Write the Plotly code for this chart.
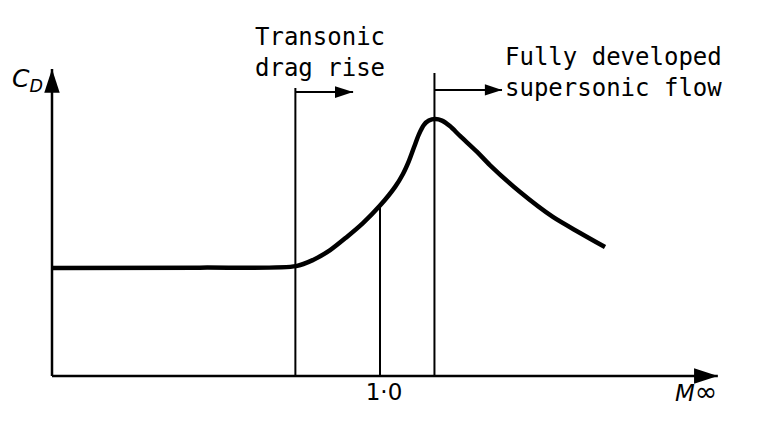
import plotly.graph_objects as go

# Drag coefficient curve (arbitrary C_D units) vs free-stream Mach number
mach = [0.0, 0.451, 0.744, 0.796, 0.848, 0.899, 0.948, 1.000, 1.046, 1.070, 1.088,
        1.104, 1.119, 1.134, 1.149, 1.168, 1.189, 1.213, 1.244, 1.296, 1.335,
        1.427, 1.527, 1.610, 1.686]
cd = [0.352, 0.353, 0.358, 0.378, 0.410, 0.453, 0.498, 0.555, 0.616, 0.658, 0.700,
      0.746, 0.788, 0.818, 0.832, 0.837, 0.832, 0.814, 0.782, 0.730, 0.687,
      0.599, 0.518, 0.466, 0.420]

# Guide markers
transonic_m = 0.742      # start of transonic drag rise
transonic_top = 0.938
transonic_arrow_y = 0.925
transonic_arrow_end = 0.918
sonic_m = 1.0
sonic_cd = 0.555
peak_m = 1.166           # fully developed supersonic flow
peak_top = 0.987
peak_arrow_y = 0.932
peak_arrow_end = 1.372

# Axis extents (arrow tips)
x_axis_end = 2.03
y_axis_end = 1.0

tick_vals = [1.0]
tick_text = ["1·0"]

fig = go.Figure()

black = "black"

def line(xs, ys, w):
    fig.add_trace(go.Scatter(x=xs, y=ys, mode="lines",
                             line=dict(color=black, width=w),
                             hoverinfo="skip", showlegend=False))

def head(x, y, ang, size):
    fig.add_trace(go.Scatter(x=[x], y=[y], mode="markers",
                             marker=dict(symbol="arrow", angle=ang, size=size,
                                         color=black, line=dict(width=0)),
                             cliponaxis=False, hoverinfo="skip", showlegend=False))

# axes
line([0, x_axis_end], [0, 0], 2.5)
line([0, 0], [0, y_axis_end], 2.5)
head(x_axis_end, 0, 90, 25)
head(0, y_axis_end, 0, 25)

# guide verticals
line([transonic_m, transonic_m], [0, transonic_top], 2)
line([sonic_m, sonic_m], [0, sonic_cd], 2)
line([peak_m, peak_m], [0, peak_top], 2)

# horizontal arrows
line([transonic_m, transonic_arrow_end], [transonic_arrow_y, transonic_arrow_y], 2)
head(transonic_arrow_end, transonic_arrow_y, 90, 19)
line([peak_m, peak_arrow_end], [peak_arrow_y, peak_arrow_y], 2)
head(peak_arrow_end, peak_arrow_y, 90, 18)

# drag curve
fig.add_trace(go.Scatter(x=mach, y=cd, mode="lines",
                         line=dict(color=black, width=4.5, shape="spline", smoothing=0.8),
                         hoverinfo="skip", showlegend=False))

mono = "DejaVu Sans Mono"
fig.add_annotation(x=0.613, y=1.055, xref="x", yref="y", text="Transonic<br>drag rise",
                   showarrow=False, xanchor="left", yanchor="middle", align="left",
                   font=dict(family=mono, size=24, color=black))
fig.add_annotation(x=1.375, y=0.987, xref="x", yref="y", text="Fully developed<br>supersonic flow",
                   showarrow=False, xanchor="left", yanchor="middle", align="left",
                   font=dict(family=mono, size=24, color=black))
fig.add_annotation(x=-0.076, y=0.964, xref="x", yref="y", text="<i>C<sub>D</sub></i>",
                   showarrow=False, xanchor="center", yanchor="middle",
                   font=dict(family="DejaVu Sans", size=25, color=black))
fig.add_annotation(x=1.962, y=-0.052, xref="x", yref="y",
                   text="<i>M</i><span style='font-size:27px'>∞</span>",
                   showarrow=False, xanchor="center", yanchor="middle",
                   font=dict(family="DejaVu Sans", size=23, color=black))

fig.update_layout(
    width=776, height=434,
    margin=dict(l=0, r=0, t=0, b=0, autoexpand=False),
    paper_bgcolor="white", plot_bgcolor="white",
    xaxis=dict(range=[-0.15854, 2.20732], showgrid=False, zeroline=False, showline=False,
               tickvals=tick_vals, ticktext=tick_text, ticks="", automargin=False,
               ticklabelshift=4,
               tickfont=dict(family="DejaVu Sans", size=23, color=black),
               anchor="free", position=0.13364, fixedrange=True),
    yaxis=dict(range=[-0.18893, 1.22476], showgrid=False, zeroline=False, showline=False,
               showticklabels=False, ticks="", automargin=False, fixedrange=True),
)

fig.write_html("out.html", config={"displayModeBar": False},
               post_script="document.body.style.margin='0';document.body.style.overflow='hidden';")
